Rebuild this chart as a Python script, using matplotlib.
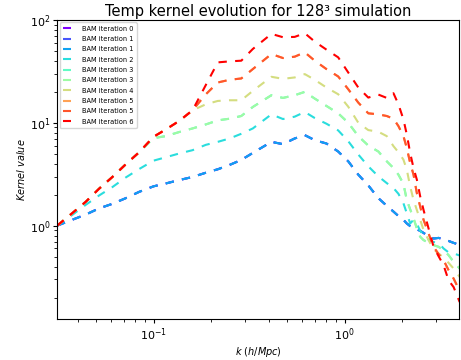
import numpy as np
import matplotlib
matplotlib.use("Agg")
import matplotlib.pyplot as plt

k = [0.0313, 0.0375, 0.0441, 0.0518, 0.0609, 0.0716, 0.0841, 0.100, 0.116, 0.136,
     0.160, 0.188, 0.217, 0.250, 0.288, 0.331, 0.414, 0.476, 0.548, 0.619,
     0.698, 0.804, 0.926, 1.045, 1.180, 1.331, 1.503, 1.663, 1.803, 1.914,
     2.033, 2.117, 2.205, 2.296, 2.390, 2.489, 2.591, 2.752, 2.924, 3.105,
     3.298, 3.504, 3.723, 4.005]

iter1 = [1.00, 1.14, 1.28, 1.47, 1.63, 1.85, 2.13, 2.41, 2.57, 2.77,
         2.97, 3.27, 3.53, 3.89, 4.35, 5.09, 6.52, 6.19, 7.03, 7.58,
         6.77, 6.28, 5.25, 4.22, 3.13, 2.46, 1.85, 1.56, 1.37, 1.24,
         1.14, 1.05, 0.99, 0.96, 0.92, 0.89, 0.85, 0.79, 0.75, 0.76,
         0.74, 0.71, 0.68, 0.65]

iter2 = [1.00, 1.27, 1.59, 1.96, 2.37, 2.94, 3.55, 4.28, 4.62, 5.02,
         5.41, 6.10, 6.52, 7.03, 7.81, 8.80, 12.06, 10.86, 11.45, 12.72,
         11.11, 9.78, 8.42, 6.62, 4.91, 3.77, 3.01, 2.59, 2.32, 2.04,
         1.65, 1.32, 1.05, 1.14, 1.04, 0.89, 0.81, 0.735, 0.693, 0.68,
         0.60, 0.549, 0.537, 0.513]

iter3 = [1.00, 1.32, 1.70, 2.28, 2.97, 3.95, 5.17, 7.08, 7.41, 8.11,
         8.80, 9.63, 10.54, 10.94, 11.62, 14.23, 18.5, 17.42, 18.5, 19.94,
         17.16, 14.55, 12.34, 10.0, 7.41, 6.0, 5.25, 4.22, 3.63, 3.13,
         2.55, 1.78, 1.44, 1.18, 0.94, 0.78, 0.724, 0.682, 0.647, 0.623,
         0.578, 0.517, 0.445, 0.383]

iter4 = [1.00, 1.32, 1.70, 2.28, 2.97, 3.95, 5.17, 7.30, 8.61, 10.38,
         13.20, 15.11, 16.28, 16.53, 16.53, 20.39, 27.94, 26.71, 27.53, 29.68,
         26.12, 21.98, 18.92, 14.33, 10.0, 8.48, 8.17, 7.41, 5.92, 5.17,
         4.38, 3.50, 2.41, 1.78, 1.42, 1.14, 0.907, 0.724, 0.587, 0.537,
         0.49, 0.435, 0.383, 0.317]

iter5 = [1.00, 1.32, 1.70, 2.28, 2.97, 3.95, 5.17, 7.30, 8.61, 10.38,
         13.20, 18.92, 24.6, 26.12, 26.92, 33.2, 46.5, 42.5, 43.8, 48.3,
         40.06, 33.2, 28.15, 21.17, 15.68, 12.34, 12.06, 11.62, 10.94, 9.28,
         7.41, 5.70, 4.07, 3.13, 2.07, 1.53, 1.14, 0.84, 0.623, 0.529,
         0.462, 0.369, 0.306, 0.232]

iter6 = [1.00, 1.32, 1.70, 2.28, 2.97, 3.95, 5.17, 7.30, 8.61, 10.38,
         13.20, 23.34, 38.58, 39.46, 40.06, 52.07, 72.98, 67.71, 68.22, 74.09,
         61.42, 51.3, 43.17, 30.8, 21.98, 17.55, 18.77, 17.42, 19.35, 15.11,
         10.78, 7.69, 5.09, 3.63, 2.80, 1.92, 1.42, 0.94, 0.623, 0.505,
         0.413, 0.294, 0.253, 0.181]

labels = ["BAM iteration 0", "BAM iteration 1", "BAM iteration 1", "BAM iteration 2",
          "BAM iteration 3", "BAM iteration 3", "BAM iteration 4", "BAM iteration 5",
          "BAM iteration 5", "BAM iteration 6"]
series = [iter1, iter1, iter1, iter2, iter3, iter3, iter4, iter5, iter5, iter6]

plt.rcParams['lines.scale_dashes'] = False
fig = plt.figure(figsize=(4.61, 3.6), dpi=100)
ax = fig.add_axes([0.124, 0.114, 0.872, 0.831])
colors = plt.cm.rainbow(np.linspace(0, 1, len(series)))
for s, lab, c in zip(series, labels, colors):
    ax.plot(k, s, linestyle=(0, (6, 6)), color=c, lw=1.5, label=lab)

ax.set_xscale('log')
ax.set_yscale('log')
ax.set_xlim(0.0313, 3.98)
ax.set_ylim(0.124, 100)
ax.set_title('Temp kernel evolution for 128\u00b3 simulation', fontsize=10.5, pad=3)
ax.set_xlabel(r'$k$ ($h/Mpc$)', fontsize=7, labelpad=2)
ax.set_ylabel(r'$Kernel\ value$', fontsize=7, labelpad=2)
ax.tick_params(labelsize=8, length=3, pad=2)
ax.tick_params(which='minor', length=2)
ax.legend(loc='upper left', fontsize=4.8, handlelength=1.2, handletextpad=1.6,
          borderpad=0.5, labelspacing=0.65, borderaxespad=0.4)
fig.savefig('out.png', dpi=100)
